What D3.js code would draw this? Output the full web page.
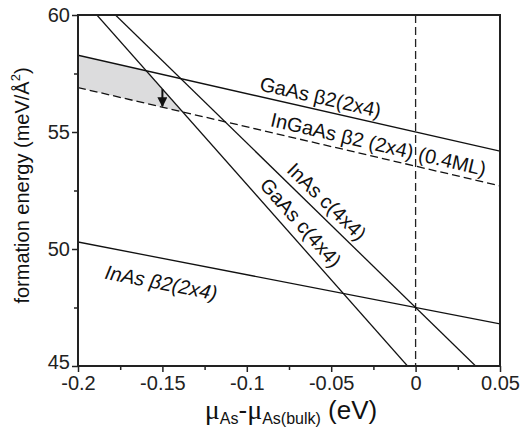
<!DOCTYPE html>
<html>
<head>
<meta charset="utf-8">
<script src="https://cdn.jsdelivr.net/npm/d3@7"></script>
<style>
  body { margin: 0; background: #fff; }
  svg { display: block; font-family: "Liberation Sans", Arial, sans-serif; }
  .axis path, .axis line { stroke: #222; }
  .axis text { font-size: 20px; fill: #222; font-family: "Liberation Sans", Arial, sans-serif; }
</style>
</head>
<body>
<div id="chart"></div>
<script>
// surface energy lines: E(mu) = e0 + slope * mu  (meV/A^2 vs eV)
var lineNames  = ["GaAs β2(2x4)", "InGaAs β2 (2x4) (0.4ML)", "InAs β2(2x4)", "InAs c(4x4)", "GaAs c(4x4)"];
var lineE0     = [55.0, 53.54, 47.5, 47.5, 44.61];
var lineSlope  = [-16.4, -16.8, -14.0, -70.3, -81.5];
var lineDashed = [false, true, false, false, false];

// label placement along each line (mu of label centre, offset from line in px)
var labelMu     = [-0.058, -0.0237, -0.148, -0.0583, -0.0747];
var labelOffset = [-13, -13, 24, -14, -15];

var xTicks = [-0.2, -0.15, -0.1, -0.05, 0, 0.05];
var xTickLabels = ["-0.2", "-0.15", "-0.1", "-0.05", "0", "0.05"];
var xMinor = [-0.175, -0.125, -0.075, -0.025, 0.025];
var yTicks = [45, 50, 55, 60];
var yMinor = [47.5, 52.5, 57.5];

var arrowMu = -0.15;

var margin = {top: 15, right: 20, bottom: 63, left: 78};
var width = 520, height = 429;
var chartWidth = width - margin.left - margin.right;
var chartHeight = height - margin.top - margin.bottom;

var svg = d3.select("#chart").append("svg")
    .attr("width", width)
    .attr("height", height);

var g = svg.append("g")
    .attr("transform", `translate(${margin.left},${margin.top})`);

var xScale = d3.scaleLinear().domain([-0.2, 0.05]).range([0, chartWidth]);
var yScale = d3.scaleLinear().domain([45, 60]).range([chartHeight, 0]);

var lines = lineNames.map((n, i) => ({name: n, e0: lineE0[i], slope: lineSlope[i], dashed: lineDashed[i]}));
var energy = (l, mu) => l.e0 + l.slope * mu;
var cross = (a, b) => (b.e0 - a.e0) / (a.slope - b.slope);

g.append("clipPath").attr("id", "plotclip")
  .append("rect").attr("width", chartWidth).attr("height", chartHeight);

var plot = g.append("g").attr("clip-path", "url(#plotclip)");

// shaded window: between GaAs b2 (top) and InGaAs (bottom), left of GaAs c(4x4)
var gaB2 = lines[0], inga = lines[1], gaC4 = lines[4];
var m1 = cross(gaB2, gaC4), m2 = cross(inga, gaC4);
var shade = [[-0.2, energy(gaB2, -0.2)], [m1, energy(gaB2, m1)], [m2, energy(inga, m2)], [-0.2, energy(inga, -0.2)]];
plot.append("path")
    .attr("d", d3.line().x(d => xScale(d[0])).y(d => yScale(d[1]))(shade) + "Z")
    .attr("fill", "#dcdcdd")
    .attr("stroke", "none");

// vertical dashed line at mu = 0
plot.append("line")
    .attr("x1", xScale(0)).attr("x2", xScale(0))
    .attr("y1", 0).attr("y2", chartHeight)
    .attr("stroke", "#222").attr("stroke-width", 1.3)
    .attr("stroke-dasharray", "8,4");

var xDom = xScale.domain();
plot.selectAll(".eline")
    .data(lines)
    .enter()
    .append("line")
    .attr("class", "eline")
    .attr("x1", xScale(xDom[0]))
    .attr("y1", d => yScale(energy(d, xDom[0])))
    .attr("x2", xScale(xDom[1]))
    .attr("y2", d => yScale(energy(d, xDom[1])))
    .attr("stroke", "#111")
    .attr("stroke-width", 1.3)
    .attr("stroke-dasharray", d => d.dashed ? "8,4" : null);

// arrow from GaAs c(4x4) down to InGaAs line
svg.append("defs").append("marker")
    .attr("id", "head")
    .attr("viewBox", "0 0 10 10")
    .attr("refX", 9).attr("refY", 5)
    .attr("markerWidth", 5).attr("markerHeight", 5)
    .attr("orient", "auto")
  .append("path").attr("d", "M0,0L10,5L0,10Z").attr("fill", "#111");

g.append("line")
    .attr("x1", xScale(arrowMu)).attr("x2", xScale(arrowMu))
    .attr("y1", yScale(energy(gaC4, arrowMu)))
    .attr("y2", yScale(energy(inga, arrowMu)) - 1)
    .attr("stroke", "#111").attr("stroke-width", 2)
    .attr("marker-end", "url(#head)");

// line labels, rotated along the lines
lines.forEach(function(l, i) {
  var mu = labelMu[i];
  var px = xScale(mu), py = yScale(energy(l, mu));
  var dx = xScale(mu + 0.01) - px, dy = yScale(energy(l, mu + 0.01)) - py;
  var ang = Math.atan2(dy, dx) * 180 / Math.PI;
  g.append("text")
    .attr("transform", `translate(${px},${py}) rotate(${ang})`)
    .attr("x", 0).attr("y", labelOffset[i])
    .attr("text-anchor", "middle")
    .attr("dominant-baseline", "central")
    .style("font-size", "20px")
    .style("font-style", i === 2 ? "italic" : "normal")
    .attr("fill", "#111")
    .text(l.name);
});

// axes
var xAxis = d3.axisBottom(xScale).tickValues(xTicks)
    .tickFormat((d, i) => xTickLabels[i]).tickSize(6).tickPadding(4);
var yAxis = d3.axisLeft(yScale).tickValues(yTicks)
    .tickFormat(d3.format("d")).tickSize(6).tickPadding(2);

g.append("g").attr("class", "x axis")
    .attr("transform", `translate(0,${chartHeight})`)
    .call(xAxis)
    .call(s => s.select(".domain").remove());
g.append("g").attr("class", "x axis minor")
    .attr("transform", `translate(0,${chartHeight})`)
    .call(d3.axisBottom(xScale).tickValues(xMinor).tickSize(4).tickFormat(""))
    .call(s => s.select(".domain").remove());

g.append("g").attr("class", "y axis")
    .call(yAxis)
    .call(s => s.select(".domain").remove());
g.append("g").attr("class", "y axis minor")
    .call(d3.axisLeft(yScale).tickValues(yMinor).tickSize(4).tickFormat(""))
    .call(s => s.select(".domain").remove());

g.selectAll(".axis .tick line").attr("stroke-width", 1.5);
// keep the bottom y label clear of the first x label
g.selectAll(".y.axis .tick text").filter(d => d === 45).attr("dy", "0.1em");

// frame
g.append("rect")
    .attr("width", chartWidth).attr("height", chartHeight)
    .attr("fill", "none").attr("stroke", "#222").attr("stroke-width", 2);

// x title
var xt = svg.append("text")
    .attr("x", 291)
    .attr("y", 419)
    .attr("text-anchor", "middle")
    .attr("fill", "#111")
    .style("font-size", "26px");
xt.append("tspan").style("font-family", "'Liberation Serif', serif").style("font-size", "28px").text("μ");
xt.append("tspan").attr("dy", 5).style("font-size", "16px").text("As");
xt.append("tspan").attr("dy", -5).text("-");
xt.append("tspan").style("font-family", "'Liberation Serif', serif").style("font-size", "28px").text("μ");
xt.append("tspan").attr("dy", 5).style("font-size", "16px").text("As(bulk)");
xt.append("tspan").attr("dy", -5).text(" (eV)");

// y title
var yt = svg.append("text")
    .attr("transform", `translate(29,${margin.top + chartHeight / 2 - 5}) rotate(-90)`)
    .attr("text-anchor", "middle")
    .attr("fill", "#111")
    .style("font-size", "20px");
yt.append("tspan").text("formation energy (meV/Å");
yt.append("tspan").attr("dy", -9).style("font-size", "13px").text("2");
yt.append("tspan").attr("dy", 9).text(")");
</script>
</body>
</html>
